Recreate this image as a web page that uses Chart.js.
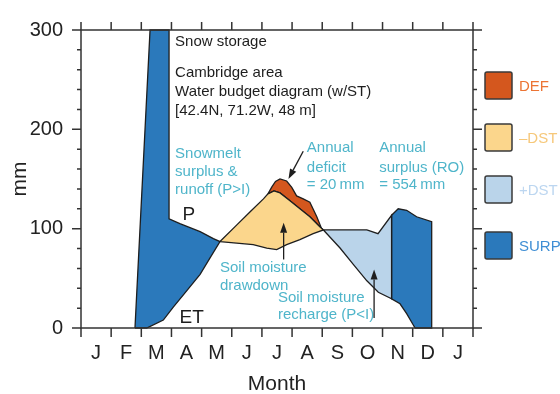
<!DOCTYPE html>
<html lang="en">
<head>
<meta charset="UTF-8">
<title>Water budget diagram</title>
<script src="https://cdn.jsdelivr.net/npm/chart.js@4.4.1/dist/chart.umd.min.js"></script>
<style>
  html, body { margin: 0; padding: 0; background: #fff; }
</style>
</head>
<body>
<canvas id="chart" width="560" height="394"></canvas>
<script>
// x is in months counted from 1 Jan (0) to the end of the next Jan (13)
const monthLabels = ['J', 'F', 'M', 'A', 'M', 'J', 'J', 'A', 'S', 'O', 'N', 'D', 'J'];

// P: precipitation plus snowmelt (mm)
const pMonth = [1.79, 2.29, 2.92, 2.92, 3.28, 3.95, 4.39, 4.61, 5.16, 5.71, 6.16, 6.49, 6.82, 7.26, 7.70, 8.04,
                8.76, 9.48, 9.85, 10.30, 10.52, 10.80, 11.13, 11.63];
const pMM = [0, 300, 300, 110, 105, 97, 90, 87, 85.5, 84, 80.5, 79, 84, 89, 95, 98.7,
             98.7, 98.7, 95, 113.5, 120, 118.5, 112, 107];

// ET: actual evapotranspiration (mm)
const etMonth = [2.18, 2.73, 3.06, 3.51, 3.95, 4.28, 4.61, 5.16, 5.61, 6.05, 6.20, 6.40, 6.60, 6.93, 7.26, 7.59, 7.92, 8.04,
                 8.59, 9.03, 9.48, 9.86, 10.30, 10.58, 10.80, 11.02, 11.08];
const etMM = [0, 8, 21, 37.6, 54, 70.6, 87, 103.6, 117, 130, 135, 138, 136, 128, 120, 112, 102, 98.7,
              80.5, 64, 47.5, 36, 29.4, 24.4, 14.5, 3, 0];

// potential ET where it is above actual ET (deficit)
const peMonth = [6.20, 6.33, 6.45, 6.60, 6.82, 6.99, 7.15, 7.37, 7.59, 7.82, 7.98, 8.04];
const peMM = [135, 142, 147.5, 150, 148, 141.6, 133, 130, 126.7, 112, 100, 98.7];

const legendLabels = ['DEF', '\u2013DST', '+DST', 'SURP'];
const legendFill = ['#d4571e', '#fbd68c', '#bad4ea', '#2b79bb'];
const legendText = ['#ec7434', '#f6c87a', '#bcd6f0', '#3f8ed4'];

const teal = '#4fb5ca';
const ink = '#1e1e1e';

// text notes placed in data units (month, mm)
const notes = [
    { t: 'Snow storage', m: 3.12, v: 288, c: ink },
    { t: 'Cambridge area', m: 3.12, v: 256.4, c: ink },
    { t: 'Water budget diagram (w/ST)', m: 3.12, v: 237.6, c: ink },
    { t: '[42.4N, 71.2W, 48 m]', m: 3.12, v: 218.8, c: ink },
    { t: 'Snowmelt', m: 3.12, v: 175, c: teal },
    { t: 'surplus &', m: 3.12, v: 157, c: teal },
    { t: 'runoff (P>I)', m: 3.12, v: 138.6, c: teal },
    { t: 'Annual', m: 7.49, v: 181, c: teal },
    { t: 'deficit', m: 7.49, v: 161.4, c: teal },
    { t: '= 20\u2009mm', m: 7.49, v: 143.6, c: teal },
    { t: 'Annual', m: 9.89, v: 181, c: teal },
    { t: 'surplus (RO)', m: 9.89, v: 161.4, c: teal },
    { t: '= 554\u2009mm', m: 9.89, v: 143.6, c: teal },
    { t: 'Soil moisture', m: 4.61, v: 60.4, c: teal },
    { t: 'drawdown', m: 4.61, v: 42.6, c: teal },
    { t: 'Soil moisture', m: 6.53, v: 30.7, c: teal },
    { t: 'recharge (P<I)', m: 6.53, v: 12.9, c: teal }
];
const curveNames = [
    { t: 'P', m: 3.58, v: 114 },
    { t: 'ET', m: 3.67, v: 10 }
];
const arrows = [
    { from: [7.37, 178], to: [6.88, 150] },
    { from: [6.72, 69], to: [6.72, 106] },
    { from: [9.72, 10], to: [9.72, 59] }
];

function part(ms, vs, a, b) {
    const out = [];
    for (let i = 0; i < ms.length; i++) {
        if (ms[i] >= a && ms[i] <= b) out.push({ x: ms[i], y: vs[i] });
    }
    return out;
}

const surpSpring = [...part(pMonth, pMM, 1.79, 4.61), ...part(etMonth, etMM, 2.18, 4.61).reverse()];
surpSpring.push(surpSpring[0]);
const drawdown = [...part(etMonth, etMM, 4.61, 8.04), ...part(pMonth, pMM, 4.61, 8.04).reverse()];
const deficit = [...part(peMonth, peMM, 6.20, 8.04), ...part(etMonth, etMM, 6.20, 8.04).reverse()];
const recharge = [...part(pMonth, pMM, 8.04, 10.30), ...part(etMonth, etMM, 8.04, 10.30).reverse()];
const surpFall = [...part(pMonth, pMM, 10.30, 11.63), { x: 11.63, y: 0 }, ...part(etMonth, etMM, 10.30, 11.08).reverse()];
surpFall.push(surpFall[0]);

function region(points, color) {
    return {
        data: points,
        backgroundColor: color,
        borderColor: ink,
        borderWidth: 1.3,
        pointRadius: 0,
        tension: 0,
        fill: 'shape',
        clip: false
    };
}

const frame = {
    id: 'frame',
    afterDatasetsDraw(chart) {
        const { ctx, chartArea: a, scales: { x, y } } = chart;
        ctx.save();
        ctx.strokeStyle = '#333';
        ctx.lineWidth = 1.5;
        ctx.beginPath();
        for (let m = 0; m <= 13; m++) {
            const px = x.getPixelForValue(m);
            ctx.moveTo(px, a.bottom); ctx.lineTo(px, a.bottom + 9);
            ctx.moveTo(px, a.top); ctx.lineTo(px, a.top - 8);
        }
        for (let v = 0; v <= 300; v += 20) {
            const py = y.getPixelForValue(v);
            const len = v % 100 === 0 ? 9 : 4;
            ctx.moveTo(a.left, py); ctx.lineTo(a.left - len, py);
            ctx.moveTo(a.right, py); ctx.lineTo(a.right + len, py);
        }
        ctx.stroke();
        ctx.strokeRect(a.left, a.top, a.right - a.left, a.bottom - a.top);
        ctx.restore();
    }
};

const notesPlugin = {
    id: 'notes',
    afterDraw(chart) {
        const { ctx, chartArea: a, scales: { x, y } } = chart;
        ctx.save();
        ctx.textBaseline = 'middle';
        ctx.textAlign = 'left';
        ctx.font = '15px "Liberation Sans", Arial, sans-serif';
        notes.forEach(n => {
            ctx.fillStyle = n.c;
            ctx.fillText(n.t, x.getPixelForValue(n.m), y.getPixelForValue(n.v));
        });
        ctx.font = '19px "Liberation Sans", Arial, sans-serif';
        ctx.textAlign = 'center';
        ctx.fillStyle = ink;
        curveNames.forEach(n => ctx.fillText(n.t, x.getPixelForValue(n.m), y.getPixelForValue(n.v)));

        // arrows
        ctx.strokeStyle = ink;
        ctx.fillStyle = ink;
        ctx.lineWidth = 1.3;
        arrows.forEach(ar => {
            const x0 = x.getPixelForValue(ar.from[0]), y0 = y.getPixelForValue(ar.from[1]);
            const x1 = x.getPixelForValue(ar.to[0]), y1 = y.getPixelForValue(ar.to[1]);
            const ang = Math.atan2(y1 - y0, x1 - x0);
            const hl = 10, hw = 3.5;
            const bx = x1 - hl * Math.cos(ang), by = y1 - hl * Math.sin(ang);
            ctx.beginPath();
            ctx.moveTo(x0, y0);
            ctx.lineTo(bx, by);
            ctx.stroke();
            ctx.beginPath();
            ctx.moveTo(x1, y1);
            ctx.lineTo(bx + hw * Math.sin(ang), by - hw * Math.cos(ang));
            ctx.lineTo(bx - hw * Math.sin(ang), by + hw * Math.cos(ang));
            ctx.closePath();
            ctx.fill();
        });

        // legend on the right
        ctx.font = '15px "Liberation Sans", Arial, sans-serif';
        ctx.textAlign = 'left';
        const boxTop = [72, 124, 176, 232];
        legendLabels.forEach((lab, i) => {
            ctx.beginPath();
            ctx.roundRect(a.right + 12, boxTop[i], 27, 27, 2);
            ctx.fillStyle = legendFill[i];
            ctx.fill();
            ctx.lineWidth = 1.5;
            ctx.strokeStyle = '#3a3a3a';
            ctx.stroke();
            ctx.fillStyle = legendText[i];
            ctx.fillText(lab, a.right + 46, boxTop[i] + 14.5);
        });
        ctx.restore();
    }
};

Chart.defaults.font.family = '"Liberation Sans", Arial, sans-serif';

new Chart(document.getElementById('chart'), {
    type: 'line',
    data: {
        datasets: [
            region(surpSpring, legendFill[3]),
            region(drawdown, legendFill[1]),
            region(deficit, legendFill[0]),
            region(recharge, legendFill[2]),
            region(surpFall, legendFill[3])
        ]
    },
    options: {
        responsive: false,
        animation: false,
        devicePixelRatio: 1,
        layout: { padding: { top: 25, right: 87, left: 0, bottom: 0 } },
        plugins: { legend: { display: false }, tooltip: { enabled: false } },
        scales: {
            x: {
                type: 'linear',
                min: 0,
                max: 13,
                afterFit: s => { s.height = 66; },
                grid: { display: false, drawTicks: false },
                border: { display: false },
                ticks: {
                    stepSize: 0.5,
                    autoSkip: false,
                    maxRotation: 0,
                    padding: 13,
                    color: '#222',
                    font: { size: 20 },
                    callback: v => (v % 1 === 0.5 ? monthLabels[Math.floor(v)] : '')
                },
                title: { display: true, text: 'Month', color: '#222', font: { size: 21, lineHeight: 1 }, padding: { top: 0, bottom: -1 } }
            },
            y: {
                min: 0,
                max: 300,
                afterFit: s => { s.width = 81; },
                grid: { display: false, drawTicks: false },
                border: { display: false },
                ticks: { stepSize: 100, padding: 18, color: '#222', font: { size: 20 } },
                title: { display: true, text: 'mm', color: '#222', font: { size: 21, lineHeight: 1 }, padding: { top: 10, bottom: 0 } }
            }
        }
    },
    plugins: [frame, notesPlugin]
});
</script>
</body>
</html>
